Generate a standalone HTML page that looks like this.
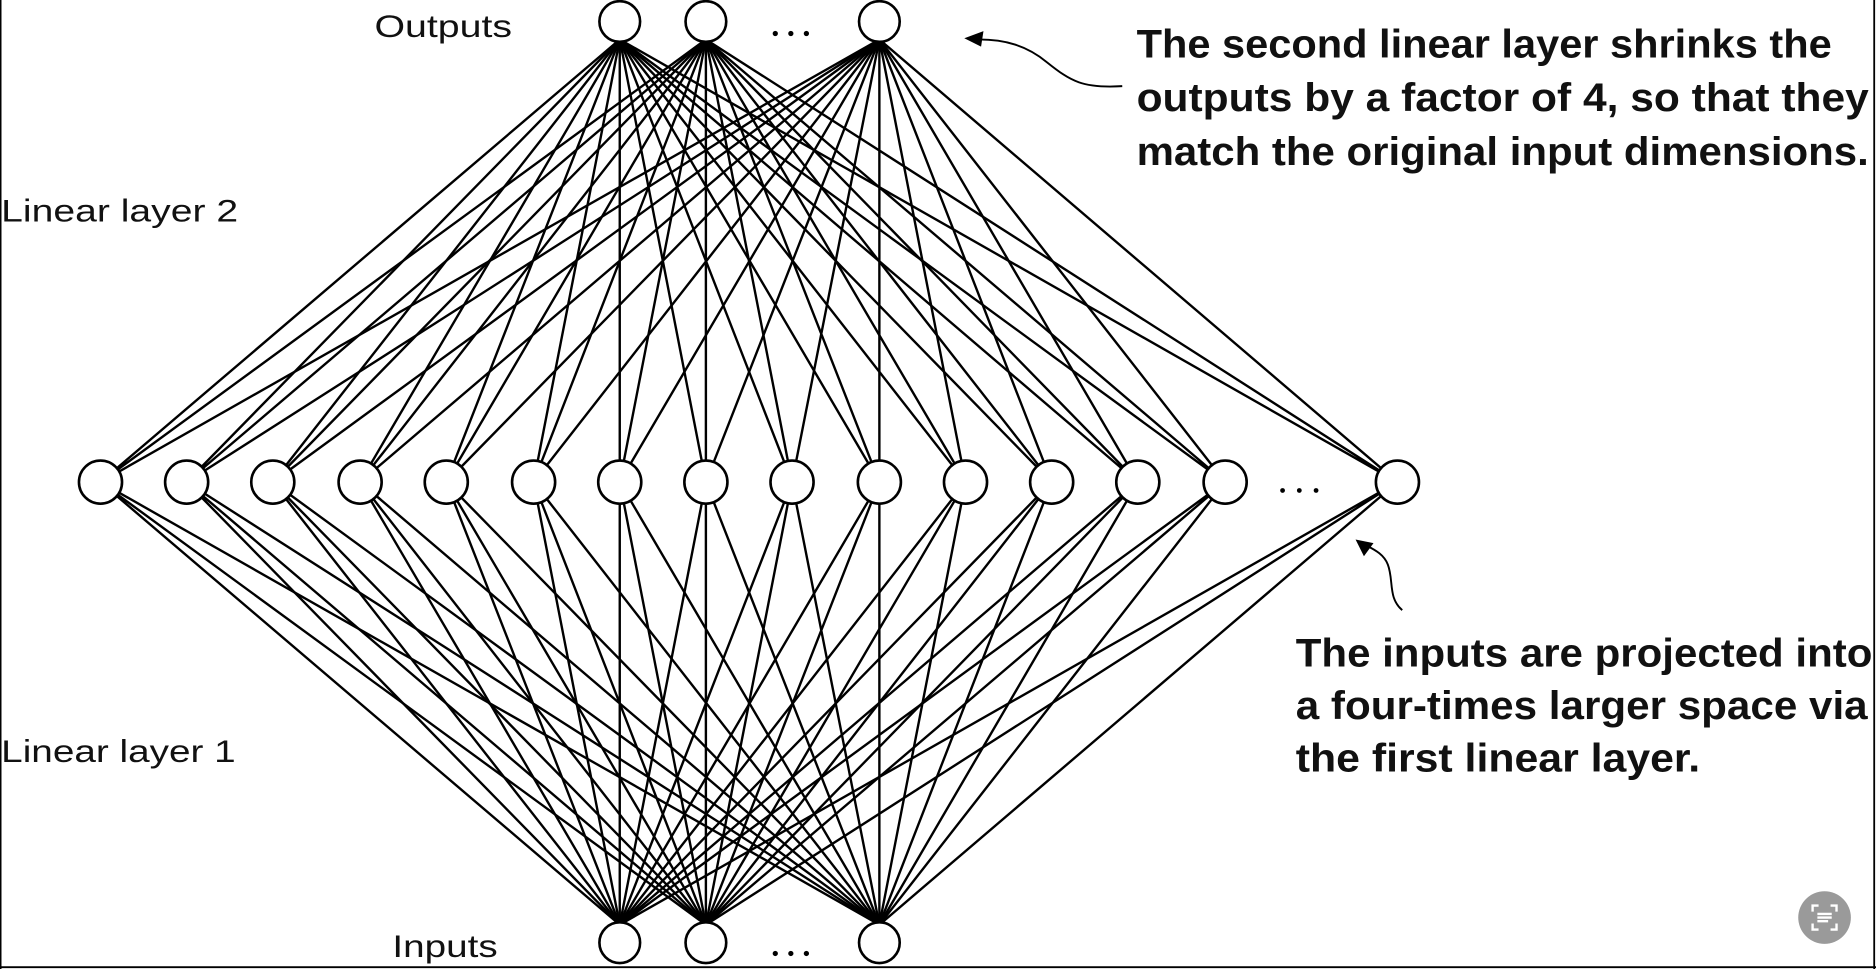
<!DOCTYPE html>
<html><head><meta charset="utf-8"><style>
html,body{margin:0;padding:0;background:#fff;}
svg{display:block;}
</style></head><body>
<svg width="1876" height="969" viewBox="0 0 1568 810" preserveAspectRatio="none" xmlns="http://www.w3.org/2000/svg">
<rect x="0" y="0" width="1568" height="810" fill="#fff"/>
<line x1="0.5" y1="0" x2="0.5" y2="810" stroke="#000" stroke-width="1.5"/>
<line x1="1566.5" y1="0" x2="1566.5" y2="810" stroke="#000" stroke-width="1.5"/>
<line x1="0" y1="808.5" x2="1568" y2="808.5" stroke="#000" stroke-width="1.5"/>
<g stroke="#000" stroke-width="2" fill="none" id="edges">
<script>/* placeholder */</script>
</g>
<g id="lines" stroke="#000" stroke-width="2">
<!-- hidden xs: 84,156,228,301,373,446,518,590,662,735,807,879,951,1024,1168 -->
</g>
<g stroke="#000" stroke-width="2">
<path d="M84 403L518 33M84 403L590 33M84 403L735 33M84 403L518 773M84 403L590 773M84 403L735 773"/>
<path d="M156 403L518 33M156 403L590 33M156 403L735 33M156 403L518 773M156 403L590 773M156 403L735 773"/>
<path d="M228 403L518 33M228 403L590 33M228 403L735 33M228 403L518 773M228 403L590 773M228 403L735 773"/>
<path d="M301 403L518 33M301 403L590 33M301 403L735 33M301 403L518 773M301 403L590 773M301 403L735 773"/>
<path d="M373 403L518 33M373 403L590 33M373 403L735 33M373 403L518 773M373 403L590 773M373 403L735 773"/>
<path d="M446 403L518 33M446 403L590 33M446 403L735 33M446 403L518 773M446 403L590 773M446 403L735 773"/>
<path d="M518 403L518 33M518 403L590 33M518 403L735 33M518 403L518 773M518 403L590 773M518 403L735 773"/>
<path d="M590 403L518 33M590 403L590 33M590 403L735 33M590 403L518 773M590 403L590 773M590 403L735 773"/>
<path d="M662 403L518 33M662 403L590 33M662 403L735 33M662 403L518 773M662 403L590 773M662 403L735 773"/>
<path d="M735 403L518 33M735 403L590 33M735 403L735 33M735 403L518 773M735 403L590 773M735 403L735 773"/>
<path d="M807 403L518 33M807 403L590 33M807 403L735 33M807 403L518 773M807 403L590 773M807 403L735 773"/>
<path d="M879 403L518 33M879 403L590 33M879 403L735 33M879 403L518 773M879 403L590 773M879 403L735 773"/>
<path d="M951 403L518 33M951 403L590 33M951 403L735 33M951 403L518 773M951 403L590 773M951 403L735 773"/>
<path d="M1024 403L518 33M1024 403L590 33M1024 403L735 33M1024 403L518 773M1024 403L590 773M1024 403L735 773"/>
<path d="M1168 403L518 33M1168 403L590 33M1168 403L735 33M1168 403L518 773M1168 403L590 773M1168 403L735 773"/>
</g>
<g fill="#fff" stroke="#000" stroke-width="2.2">
<circle cx="518" cy="18" r="17"/><circle cx="590" cy="18" r="17"/><circle cx="735" cy="18" r="17"/>
<circle cx="518" cy="788" r="17"/><circle cx="590" cy="788" r="17"/><circle cx="735" cy="788" r="17"/>
<circle cx="84" cy="403" r="18"/><circle cx="156" cy="403" r="18"/><circle cx="228" cy="403" r="18"/>
<circle cx="301" cy="403" r="18"/><circle cx="373" cy="403" r="18"/><circle cx="446" cy="403" r="18"/>
<circle cx="518" cy="403" r="18"/><circle cx="590" cy="403" r="18"/><circle cx="662" cy="403" r="18"/>
<circle cx="735" cy="403" r="18"/><circle cx="807" cy="403" r="18"/><circle cx="879" cy="403" r="18"/>
<circle cx="951" cy="403" r="18"/><circle cx="1024" cy="403" r="18"/><circle cx="1168" cy="403" r="18"/>
</g>
<g fill="#000">
<circle cx="648" cy="28" r="2.2"/><circle cx="661" cy="28" r="2.2"/><circle cx="674" cy="28" r="2.2"/>
<circle cx="648" cy="797" r="2.2"/><circle cx="661" cy="797" r="2.2"/><circle cx="674" cy="797" r="2.2"/>
<circle cx="1072" cy="410" r="2"/><circle cx="1086" cy="410" r="2"/><circle cx="1100" cy="410" r="2"/>
</g>
<g font-family="Liberation Sans, sans-serif" font-size="26" fill="#111">
<text x="313" y="31" textLength="115" lengthAdjust="spacingAndGlyphs">Outputs</text>
<text x="1" y="185" textLength="198" lengthAdjust="spacingAndGlyphs">Linear layer 2</text>
<text x="1" y="637" textLength="196" lengthAdjust="spacingAndGlyphs">Linear layer 1</text>
<text x="328" y="800" textLength="88" lengthAdjust="spacingAndGlyphs">Inputs</text>
</g>
<g font-family="Liberation Sans, sans-serif" font-weight="bold" font-size="33" fill="#111">
<text x="950" y="48" textLength="581" lengthAdjust="spacingAndGlyphs">The second linear layer shrinks the</text>
<text x="950" y="93" textLength="612" lengthAdjust="spacingAndGlyphs">outputs by a factor of 4, so that they</text>
<text x="950" y="138" textLength="612" lengthAdjust="spacingAndGlyphs">match the original input dimensions.</text>
<text x="1083" y="557" textLength="482" lengthAdjust="spacingAndGlyphs">The inputs are projected into</text>
<text x="1083" y="601" textLength="478" lengthAdjust="spacingAndGlyphs">a four-times larger space via</text>
<text x="1083" y="645" textLength="338" lengthAdjust="spacingAndGlyphs">the first linear layer.</text>
</g>
<path d="M938 72 C905 74 895 68 875 52 C858 38 840 33 818 33" fill="none" stroke="#000" stroke-width="1.6"/>
<path d="M806 32 L822 26 L820 39 Z" fill="#000"/>
<path d="M1172 510 C1160 500 1165 485 1160 472 C1157 464 1150 460 1142 456" fill="none" stroke="#000" stroke-width="1.6"/>
<path d="M1133 451 L1148 454 L1140 465 Z" fill="#000"/>
<circle cx="1525" cy="767" r="22" fill="#9a9a9a"/>
<g fill="none" stroke="#fff" stroke-width="2">
<path d="M1515 762v-5h5M1530 757h5v5M1535 772v5h-5M1520 777h-5v-5"/>
<path d="M1519 764h12M1519 767h12M1519 770h9"/>
</g>
</svg>
</body></html>
